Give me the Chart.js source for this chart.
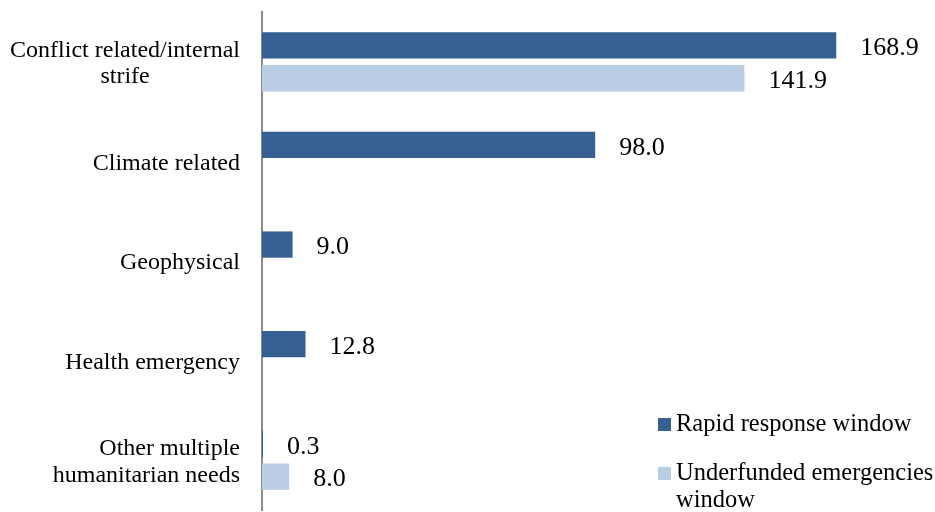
<!DOCTYPE html>
<html>
<head>
<meta charset="utf-8">
<script src="https://cdn.jsdelivr.net/npm/chart.js@4/dist/chart.umd.min.js"></script>
<style>
  body { margin: 0; background: #fff; }
  #wrap { width: 935px; height: 512px; }
</style>
</head>
<body>
<div id="wrap"><canvas id="chart"></canvas></div>
<script>
// Data
const categories = [
    ['Conflict related/internal', 'strife'],
    'Climate related',
    'Geophysical',
    'Health emergency',
    ['Other multiple', 'humanitarian needs']
];
const rapidResponse = [168.9, 98.0, 9.0, 12.8, 0.3];
const underfunded = [141.9, null, null, null, 8.0];
const seriesNames = ['Rapid response window', 'Underfunded emergencies window'];

const serif = 'Liberation Serif, Times New Roman, serif';
const darkBlue = '#376092';
const lightBlue = '#B9CDE5';

// Category labels: right-aligned against the axis; the first one has its
// lines centred on each other as in the original
const categoryLabels = {
    id: 'categoryLabels',
    afterDraw(chart) {
        const ctx = chart.ctx;
        const yScale = chart.scales.y;
        const right = yScale.right - 22;
        const lineH = 26.5;
        ctx.save();
        ctx.font = '24px ' + serif;
        ctx.fillStyle = '#000';
        ctx.textBaseline = 'middle';
        chart.data.labels.forEach((label, i) => {
            const lines = Array.isArray(label) ? label : [label];
            const cy = yScale.getPixelForTick(i) + 2;
            const widest = Math.max(...lines.map(l => ctx.measureText(l).width));
            lines.forEach((l, k) => {
                const y = cy + (k - (lines.length - 1) / 2) * lineH;
                if (i === 0) {
                    ctx.textAlign = 'center';
                    ctx.fillText(l, right - widest / 2, y);
                } else {
                    ctx.textAlign = 'right';
                    ctx.fillText(l, right, y);
                }
            });
        });
        ctx.restore();
    }
};

// Value labels to the right of each bar
const valueLabels = {
    id: 'valueLabels',
    afterDatasetsDraw(chart) {
        const ctx = chart.ctx;
        ctx.save();
        ctx.font = '26px ' + serif;
        ctx.fillStyle = '#000';
        ctx.textAlign = 'left';
        ctx.textBaseline = 'middle';
        chart.data.datasets.forEach((ds, i) => {
            chart.getDatasetMeta(i).data.forEach((bar, j) => {
                const v = ds.data[j];
                if (v === null || v === undefined) return;
                ctx.fillText(v.toFixed(1), bar.x + 24, bar.y + 3);
            });
        });
        ctx.restore();
    }
};

// Legend in the bottom-right corner, wrapped like the original
const cornerLegend = {
    id: 'cornerLegend',
    afterDraw(chart) {
        const ctx = chart.ctx;
        const left = 658, textX = 676, maxW = 268;
        let y = 431;
        ctx.save();
        ctx.font = '24.5px ' + serif;
        ctx.textBaseline = 'alphabetic';
        chart.data.datasets.forEach(ds => {
            ctx.fillStyle = ds.backgroundColor;
            ctx.fillRect(left, y - 13, 13, 13);
            ctx.fillStyle = '#000';
            // simple word wrap
            const words = ds.label.split(' ');
            let line = '';
            const lines = [];
            words.forEach(w => {
                const test = line ? line + ' ' + w : w;
                if (ctx.measureText(test).width > maxW && line) {
                    lines.push(line);
                    line = w;
                } else {
                    line = test;
                }
            });
            lines.push(line);
            lines.forEach((l, k) => ctx.fillText(l, textX, y + k * 27));
            y += 49;
        });
        ctx.restore();
    }
};

new Chart(document.getElementById('chart'), {
    type: 'bar',
    data: {
        labels: categories,
        datasets: [
            {
                label: seriesNames[0],
                data: rapidResponse,
                backgroundColor: darkBlue,
                categoryPercentage: 0.66,
                barPercentage: 0.8
            },
            {
                label: seriesNames[1],
                data: underfunded,
                backgroundColor: lightBlue,
                categoryPercentage: 0.66,
                barPercentage: 0.8
            }
        ]
    },
    options: {
        indexAxis: 'y',
        responsive: true,
        maintainAspectRatio: false,
        animation: false,
        layout: { padding: { left: 12, right: 61, top: 12, bottom: 2 } },
        plugins: {
            legend: { display: false },
            tooltip: { enabled: false }
        },
        scales: {
            x: {
                display: false,
                min: 0,
                max: 180
            },
            y: {
                grid: { display: false, drawTicks: false },
                border: { display: true, color: '#8c8c8c', width: 2 },
                ticks: { display: false },
                afterFit(scale) {
                    // room for the category labels drawn by categoryLabels
                    scale.paddingTop = 0;
                    scale.paddingBottom = 0;
                    scale.width = 250;
                }
            }
        }
    },
    plugins: [valueLabels, categoryLabels, cornerLegend]
});
</script>
</body>
</html>
